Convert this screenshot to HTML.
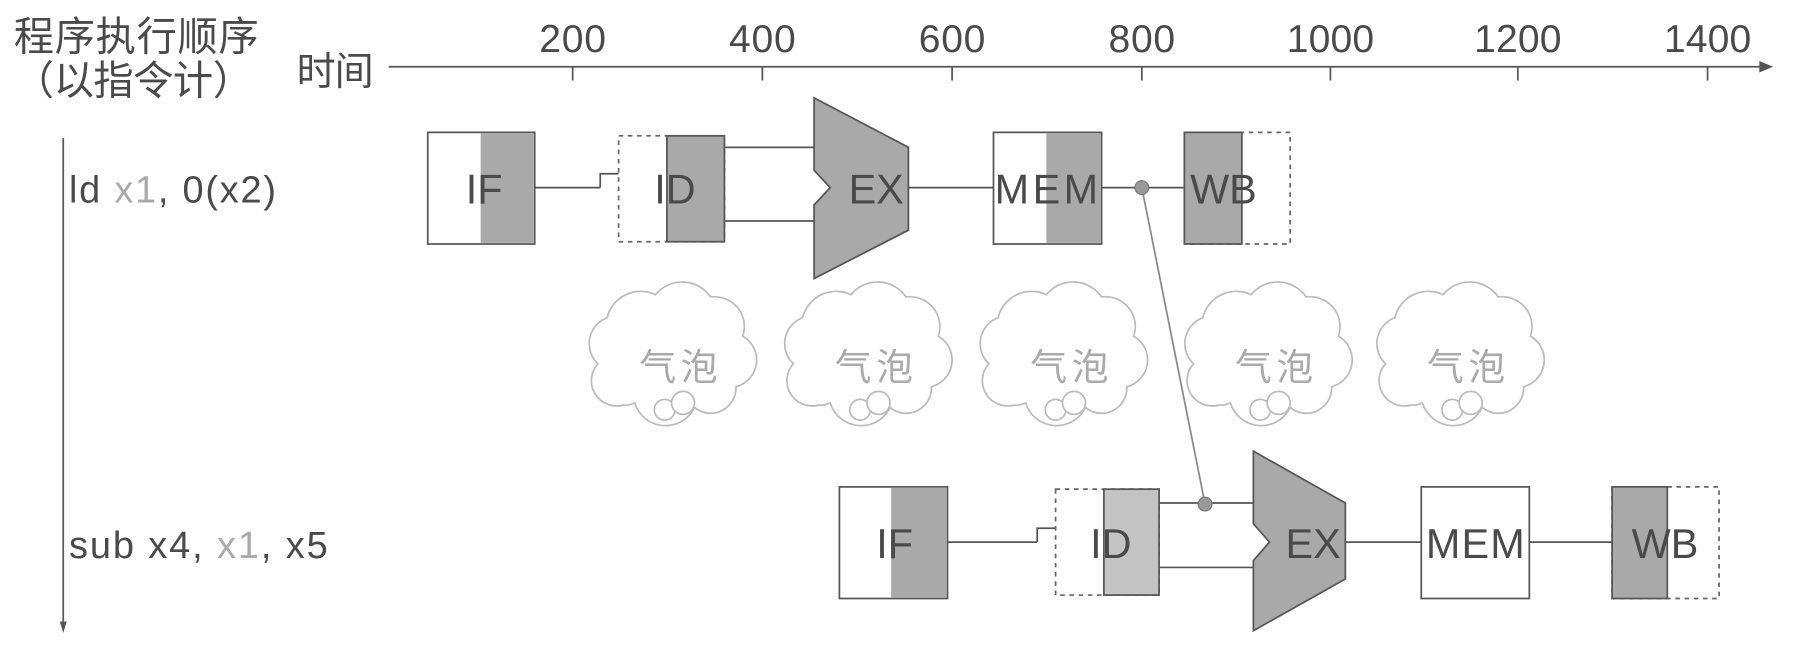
<!DOCTYPE html>
<html><head><meta charset="utf-8"><style>
html,body{margin:0;padding:0;background:#fff;width:1803px;height:648px;overflow:hidden}
svg{display:block}
text{font-family:"Liberation Sans","Noto Sans CJK SC",sans-serif;fill:#4a4a4a}
</style></head><body>
<svg width="1803" height="648" viewBox="0 0 1568 563" preserveAspectRatio="none">
<defs>
<g id="cloud">
<path d="M-48,42 a22,22 0 0 1 -22,-36 a24,24 0 0 1 8,-40 a30,30 0 0 1 42,-20 a30,30 0 0 1 48,2 a26,26 0 0 1 28,34 a24,24 0 0 1 -6,44 a22,22 0 0 1 -36,18 a28,28 0 0 1 -52,-4 a20,20 0 0 1 -10,2 z" fill="#fff" stroke="#bbb" stroke-width="1.5"/>
<circle cx="-12" cy="46" r="9" fill="#fff" stroke="#bbb" stroke-width="1.5"/>
<circle cx="4" cy="40" r="10" fill="#fff" stroke="#bbb" stroke-width="1.5"/>
<text x="0" y="20" font-size="32" text-anchor="middle" textLength="68" style="fill:#aaa">气泡</text>
</g>
</defs>
<g fill="#4a4a4a">
<text x="12" y="44" font-size="35" textLength="213">程序执行顺序</text>
<text x="12" y="82" font-size="35" textLength="208">（以指令计）</text>
<text x="258" y="74" font-size="34" textLength="67">时间</text>
</g>
<line x1="338" y1="58" x2="1532" y2="58" stroke="#555" stroke-width="1.5"/>
<path d="M1530,53 L1542,58 L1530,63 z" fill="#555"/>
<g stroke="#555" stroke-width="1.5">
<line x1="498" y1="58" x2="498" y2="70"/><line x1="663" y1="58" x2="663" y2="70"/><line x1="828" y1="58" x2="828" y2="70"/><line x1="993" y1="58" x2="993" y2="70"/><line x1="1157" y1="58" x2="1157" y2="70"/><line x1="1320" y1="58" x2="1320" y2="70"/><line x1="1485" y1="58" x2="1485" y2="70"/>
</g>
<g font-size="34" text-anchor="middle">
<text x="498" y="45" textLength="58">200</text><text x="663" y="45" textLength="58">400</text><text x="828" y="45" textLength="58">600</text><text x="993" y="45" textLength="58">800</text><text x="1157" y="45" textLength="76">1000</text><text x="1320" y="45" textLength="76">1200</text><text x="1485" y="45" textLength="76">1400</text>
</g>
<line x1="55" y1="120" x2="55" y2="545" stroke="#555" stroke-width="1.5"/>
<path d="M52,540 L55,550 L58,540 z" fill="#555"/>
<text x="60" y="176" font-size="33" textLength="180">ld <tspan style="fill:#aaa">x1</tspan>, 0(x2)</text>
<text x="60" y="485" font-size="33" textLength="225">sub x4, <tspan style="fill:#aaa">x1</tspan>, x5</text>

<!-- row 1 -->
<g stroke="#555" stroke-width="1.5">
<line x1="465" y1="163" x2="522" y2="163"/>
<path d="M522,163 V151 H538" fill="none"/>
<line x1="630" y1="128" x2="710" y2="128"/><line x1="630" y1="192" x2="710" y2="192"/>
<line x1="790" y1="163" x2="864" y2="163"/>
<line x1="958" y1="163" x2="1030" y2="163"/>
</g>
<rect x="372" y="115" width="93" height="97" fill="#fff" stroke="#555" stroke-width="1.5"/>
<rect x="418" y="116" width="46" height="95" fill="#a9a9a9"/>
<text x="421" y="177" font-size="36" text-anchor="middle">IF</text>
<rect x="538" y="118" width="92" height="92" fill="#fff" stroke="#666" stroke-width="1.5" stroke-dasharray="4,4"/>
<rect x="580" y="118" width="50" height="92" fill="#a9a9a9" stroke="#555" stroke-width="1.5"/>
<text x="587" y="177" font-size="36" text-anchor="middle">ID</text>
<path d="M708,85 L790,128 L790,200 L708,242 L708,178 L722,163 L708,148 z" fill="#a9a9a9" stroke="#555" stroke-width="1.5"/>
<text x="762" y="177" font-size="36" text-anchor="middle">EX</text>
<rect x="864" y="115" width="94" height="97" fill="#fff" stroke="#555" stroke-width="1.5"/>
<rect x="910" y="116" width="47" height="95" fill="#a9a9a9"/>
<text x="910" y="177" font-size="36" text-anchor="middle" textLength="90">MEM</text>
<rect x="1030" y="115" width="92" height="97" fill="#fff" stroke="#666" stroke-width="1.5" stroke-dasharray="4,4"/>
<rect x="1030" y="115" width="50" height="97" fill="#a9a9a9" stroke="#555" stroke-width="1.5"/>
<text x="1064" y="177" font-size="36" text-anchor="middle">WB</text>

<!-- clouds -->
<use href="#cloud" x="590" y="310"/>
<use href="#cloud" x="760" y="310"/>
<use href="#cloud" x="930" y="310"/>
<use href="#cloud" x="1108" y="310"/>
<use href="#cloud" x="1275" y="310"/>

<line x1="993" y1="163" x2="1048" y2="438" stroke="#888" stroke-width="1.5"/>
<circle cx="993" cy="163" r="6" fill="#999" stroke="#777"/>

<!-- row 2 -->
<g stroke="#555" stroke-width="1.5">
<line x1="824" y1="471" x2="902" y2="471"/>
<path d="M902,471 V459 H918" fill="none"/>
<line x1="1008" y1="437" x2="1092" y2="437"/><line x1="1008" y1="493" x2="1092" y2="493"/>
<line x1="1170" y1="471" x2="1236" y2="471"/>
<line x1="1330" y1="471" x2="1402" y2="471"/>
</g>
<rect x="730" y="423" width="94" height="97" fill="#fff" stroke="#555" stroke-width="1.5"/>
<rect x="775" y="424" width="48" height="95" fill="#a9a9a9"/>
<text x="778" y="485" font-size="36" text-anchor="middle">IF</text>
<rect x="918" y="425" width="90" height="92" fill="#fff" stroke="#666" stroke-width="1.5" stroke-dasharray="4,4"/>
<rect x="960" y="425" width="48" height="92" fill="#c4c4c4" stroke="#555" stroke-width="1.5"/>
<text x="966" y="485" font-size="36" text-anchor="middle">ID</text>
<circle cx="1048" cy="438" r="6" fill="#999" stroke="#777"/>
<path d="M1090,392 L1170,437 L1170,503 L1090,548 L1090,487 L1104,471 L1090,455 z" fill="#a9a9a9" stroke="#555" stroke-width="1.5"/>
<text x="1142" y="485" font-size="36" text-anchor="middle">EX</text>
<rect x="1236" y="423" width="94" height="97" fill="#fff" stroke="#555" stroke-width="1.5"/>
<text x="1283" y="485" font-size="36" text-anchor="middle" textLength="86">MEM</text>
<rect x="1402" y="423" width="93" height="97" fill="#fff" stroke="#666" stroke-width="1.5" stroke-dasharray="4,4"/>
<rect x="1402" y="423" width="48" height="97" fill="#a9a9a9" stroke="#555" stroke-width="1.5"/>
<text x="1448" y="485" font-size="36" text-anchor="middle">WB</text>
</svg>
</body></html>
